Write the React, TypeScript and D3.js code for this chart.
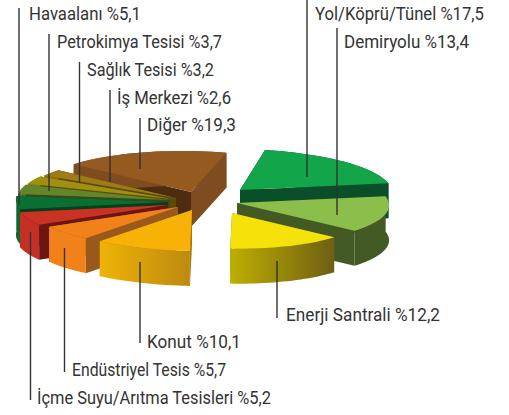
import React from "react";
import * as d3 from "d3";

const categories = ["Yol/Köprü/Tünel","Demiryolu","Enerji Santrali","Konut","Endüstriyel Tesis","İçme Suyu/Arıtma Tesisleri","Havaalanı","Petrokimya Tesisi","Sağlık Tesisi","İş Merkezi","Diğer"];
const shares = [17.5,13.4,12.2,10.1,5.7,5.2,5.1,3.7,3.2,2.6,19.3];
const shareLabels = ["17,5","13,4","12,2","10,1","5,7","5,2","5,1","3,7","3,2","2,6","19,3"];

const topColors = ["#12a54a","#8bbe4b","#f4e20a","#f7b205","#f28119","#ca3224","#0b6f33","#64862b","#a09010","#9e7c12","#945a20"];
const wallColors = ["#0b4f2a","#435a24","#8a7c08","#a8780c","#99591a","#6c1512","#03401c","#3c4a18","#5c4c0c","#5c4a0c","#4e2c12"];
const endWallColors = ["#0b4f2a","#435a24","#8a7c08","#a8780c","#99591a","#6c1512","#03401c","#3c4a18","#5c4c0c","#5c4a0c","#7e4c1e"];
const outerFrom = ["#0b4f2a","#435a24","#bfae00","#efb305","#f28119","#c43025","#0c6a30","#55701f","#8a7c10","#8a6c10","#7e4c1e"];
const outerTo = ["#0b4f2a","#435a24","#6e5f14","#bd8a10","#f28119","#c43025","#0c6a30","#55701f","#8a7c10","#8a6c10","#7e4c1e"];
const apexX = [240,237,232,192,178,168,168,170,172,176,191];
const apexY = [190,203,213,210,207,205,202,200,199,198,192];
const radius = [1,1,0.87,1,1,1,1,1,1,1,1];
const paintOrder = [0,1,2,10,9,8,7,6,5,4,3];
const labelX = [315,344,286,147,72,37,29,57,87,117,147];
const labelEnd = [484,469,440,241,226,271,141,222,214,231,236];
const labelY = [20,48,321,348,376,404,20,48,76,104,131];
const leaderX = [307,337,277,140,64.5,30.5,19,49,79.5,110,140];
const leaderTop = [0,28,261,262,248,232,8,34,62,90,118];
const leaderBottom = [177,215,318,343,372,400,205,191,183,182,169];

const depth = 35;
const warp = d3.scaleLinear().domain([0,113.5,158,289,360].map(d=>d*Math.PI/180)).range([0,120,171,300,364].map(d=>d*Math.PI/180));
const dirX = (t:number)=>150*Math.sin(t)+25*Math.cos(t);
const dirY = (t:number)=>9*Math.sin(t)-40*Math.cos(t);
const line = d3.line();

export default function App(){
  const arcs = d3.pie<number>().sort(null).startAngle(0).endAngle(2*Math.PI)(shares);
  return (
    <svg width={509} height={415} style={{position:"absolute",left:0,top:0,background:"#fff"}}>
      <defs>
        {categories.map((_,i)=>(
          <linearGradient key={i} id={`o${i}`} x1="0" x2="1" y1="0" y2="0">
            <stop offset="0" stopColor={outerFrom[i]}/>
            <stop offset="1" stopColor={outerTo[i]}/>
          </linearGradient>
        ))}
      </defs>
      {paintOrder.map(i=>{
        const a = arcs[i];
        const t0 = warp(a.startAngle), t1 = warp(a.endAngle);
        const ax = apexX[i], ay = apexY[i];
        const n = 24;
        const rim:[number,number][] = d3.range(n+1).map(k=>{
          const t = t0+(t1-t0)*k/n;
          return [ax+radius[i]*dirX(t),ay+radius[i]*dirY(t)];
        });
        const low = (p:[number,number]):[number,number]=>[p[0],p[1]+depth];
        const apex:[number,number] = [ax,ay];
        const first = rim[0], last = rim[n];
        return (
          <g key={i}>
            <path d={line([apex,last,low(last),low(apex)])+"Z"} fill={endWallColors[i]}/>
            <path d={line([apex,first,low(first),low(apex)])+"Z"} fill={wallColors[i]}/>
            <path d={line([...rim,...rim.map(low).reverse()])+"Z"} fill={`url(#o${i})`}/>
            <path d={line([apex,...rim])+"Z"} fill={topColors[i]}/>
          </g>
        );
      })}
      {categories.map((c,i)=>(
        <g key={c}>
          <line x1={leaderX[i]} x2={leaderX[i]} y1={leaderTop[i]} y2={leaderBottom[i]} stroke="#333" strokeWidth={1.4}/>
          <text x={labelX[i]} y={labelY[i]} fontFamily="Roboto, sans-serif" fontSize={19} fill="#333"
            textLength={labelEnd[i]-labelX[i]} lengthAdjust="spacingAndGlyphs">{`${c} %${shareLabels[i]}`}</text>
        </g>
      ))}
    </svg>
  );
}
